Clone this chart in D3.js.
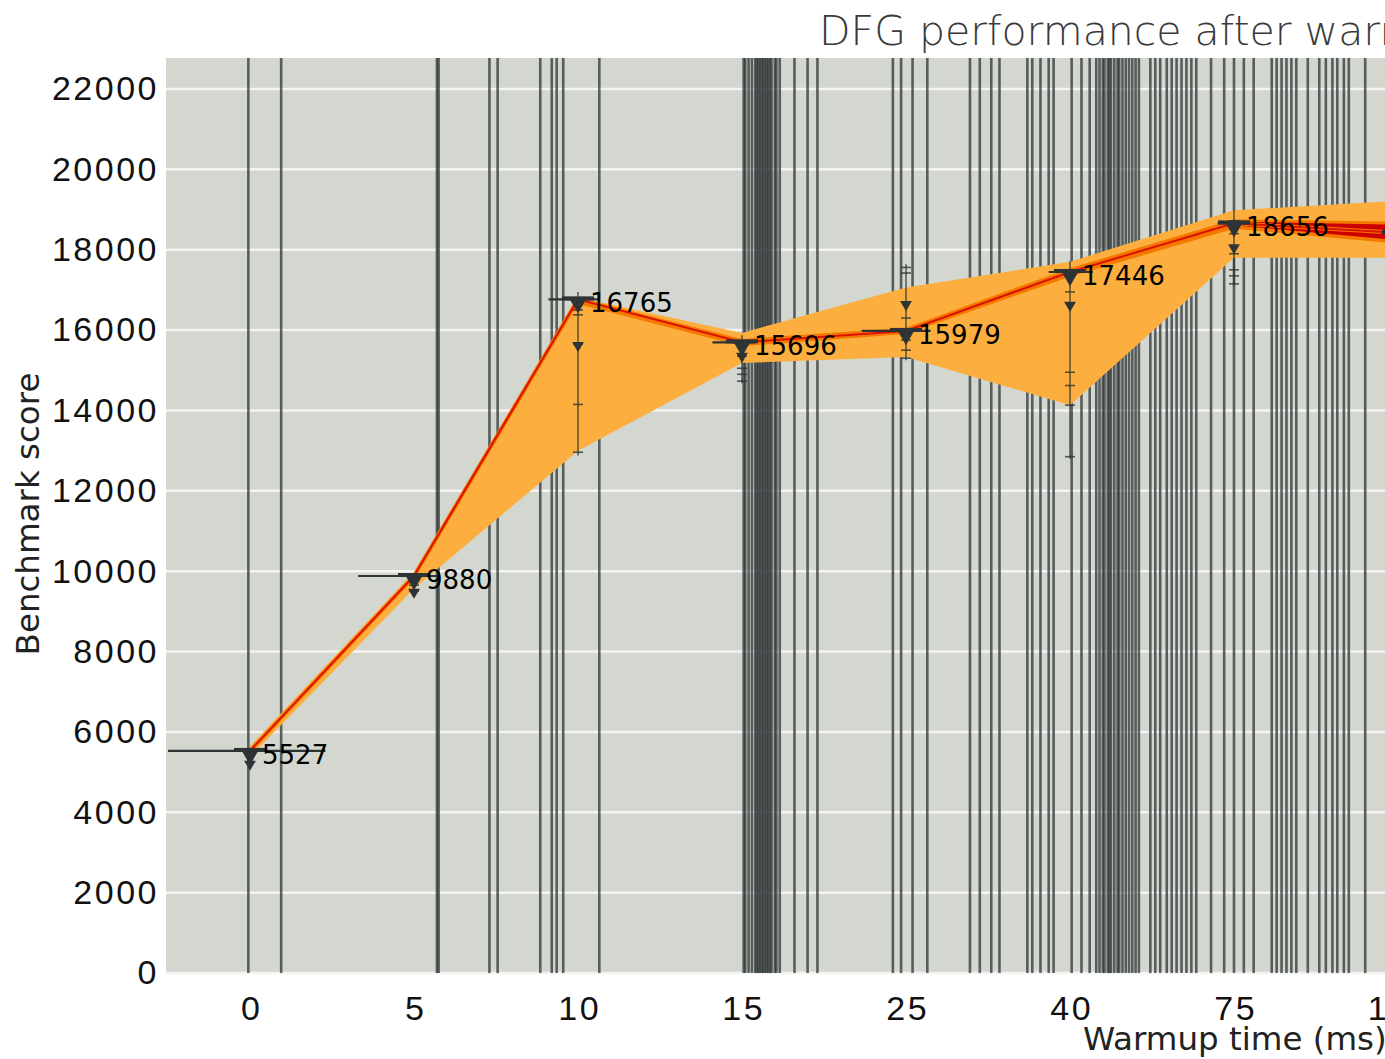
<!DOCTYPE html>
<html>
<head>
<meta charset="utf-8">
<script src="https://cdnjs.cloudflare.com/ajax/libs/d3/7.8.5/d3.min.js"></script>
<style>
  body { margin: 0; background: #fff; overflow: hidden; }
  svg { display: block; font-family: "DejaVu Sans", "Noto Sans", sans-serif; }
</style>
</head>
<body>
<div id="graph"></div>
<script>
// warmup categories and per-category summary values (benchmark score)
let warmups = ["0", "5", "10", "15", "25", "40", "75", "100"];
let medians = [5527, 9880, 16765, 15696, 15979, 17446, 18656, 18420];
let bandLow = [5380, 9560, 13000, 15180, 15330, 14130, 17800, 17800];
let bandHigh = [5640, 9980, 16820, 15930, 17060, 17700, 18980, 19220];
let innerLow = [5470, 9820, 16650, 15600, 15900, 17330, 18520, 18150];
let innerHigh = [5580, 9930, 16800, 15780, 16060, 17540, 18760, 18700];
let coreLow = [5510, 9860, 16740, 15670, 15950, 17410, 18610, 18240];
let coreHigh = [5545, 9900, 16790, 15720, 16000, 17480, 18700, 18620];

// run spread per category (whiskers and individual run ticks)
let whiskerLow = [5200, 9430, 12880, 14680, 15250, 12800, 17100, 17500];
let whiskerHigh = [5600, 9950, 16950, 15870, 17640, 17720, 18990, 19100];
let runTicks = [
  [5250, 5450],
  [9500, 9650, 9780],
  [16500, 16380, 15650, 14150, 12960],
  [15350, 15050, 14900, 14730],
  [17560, 17420, 16700, 16300, 15750, 15500, 15300],
  [16950, 16670, 14950, 14620, 14130, 12850],
  [18400, 17900, 17500, 17350, 17150],
  []
];
let triangleMarks = [
  [5250], [9530], [15670], [15400], [16690], [16670, 17440], [18100, 18700], []
];
// horizontal spread of each run group, in category index units
let spreadLow = [-0.5, 0.66, 1.82, 2.82, 3.73, 4.87, 5.9, 6.9];
let spreadHigh = [0.46, 1.16, 2.13, 3.08, 4.15, 5.14, 6.1, 7.1];

// rug of individual warmup samples, in category index units
let rugPositions = [
  -0.01, 0.19, 1.14, 1.15, 1.46, 1.51, 1.77, 1.84, 1.87, 1.91, 2.13,
  3.01, 3.02, 3.04, 3.06, 3.08, 3.09, 3.10, 3.11, 3.12, 3.13, 3.14, 3.15, 3.16, 3.17,
  3.18, 3.20, 3.21, 3.23,
  3.32, 3.40, 3.46,
  3.92, 3.97, 4.04, 4.13,
  4.39, 4.45, 4.52, 4.57,
  4.74, 4.77, 4.82, 4.87, 4.90, 5.01, 5.07, 5.12,
  5.16, 5.18, 5.20, 5.21, 5.23, 5.24, 5.25, 5.27, 5.29, 5.30, 5.32, 5.34, 5.36, 5.38, 5.40, 5.42,
  5.49, 5.52, 5.55, 5.59, 5.62, 5.65, 5.68, 5.71, 5.74, 5.77,
  5.86, 5.94, 6.00, 6.06, 6.12,
  6.23, 6.26, 6.29, 6.32, 6.35, 6.38, 6.45,
  6.52, 6.56, 6.60, 6.63, 6.67, 6.70, 6.80
];

let yTicks = [0, 2000, 4000, 6000, 8000, 10000, 12000, 14000, 16000, 18000, 20000, 22000];

let title = "DFG performance after warmup";
let xLabel = "Warmup time (ms)";
let yLabel = "Benchmark score";

let width = 1385, height = 1059;
let plot = {left: 166, top: 58, right: 1560, bottom: 973};

let x = d3.scalePoint().domain(warmups).range([250, 1398]);
let xi = d3.scaleLinear().domain([0, warmups.length - 1]).range([250, 1398]);
let y = d3.scaleLinear().domain([0, 22000]).range([plot.bottom, 89]);

let svg = d3.select('div#graph').append('svg')
  .attr('width', width)
  .attr('height', height);

svg.append('rect')
  .attr('x', plot.left)
  .attr('y', plot.top)
  .attr('width', plot.right - plot.left)
  .attr('height', plot.bottom - plot.top)
  .attr('fill', '#d3d7cf');

// grid
svg.append('g')
  .selectAll('line')
  .data(yTicks)
  .join('line')
  .attr('x1', plot.left)
  .attr('x2', plot.right)
  .attr('y1', d => y(d))
  .attr('y2', d => y(d))
  .attr('stroke', '#f4f4f2')
  .attr('stroke-width', 2.5);

// rug
svg.append('g')
  .selectAll('line')
  .data(rugPositions)
  .join('line')
  .attr('x1', d => xi(d))
  .attr('x2', d => xi(d))
  .attr('y1', plot.top)
  .attr('y2', plot.bottom)
  .attr('stroke', '#2e3436')
  .attr('stroke-opacity', 0.75)
  .attr('stroke-width', 2.6);

let idx = d3.range(warmups.length);

let band = (lo, hi) => d3.area()
  .x(i => x(warmups[i]))
  .y0(i => y(lo[i]))
  .y1(i => y(hi[i]));

svg.append('path').datum(idx).attr('d', band(bandLow, bandHigh)).attr('fill', '#fcaf3e');
svg.append('path').datum(idx).attr('d', band(innerLow, innerHigh)).attr('fill', '#f57900');
svg.append('path').datum(idx).attr('d', band(coreLow, coreHigh)).attr('fill', '#cc0000');

let line = d3.line()
  .x(i => x(warmups[i]))
  .y(i => y(medians[i]));

svg.append('path').datum(idx)
  .attr('d', line)
  .attr('fill', 'none')
  .attr('stroke', '#f57900')
  .attr('stroke-width', 4);
svg.append('path').datum(idx)
  .attr('d', line)
  .attr('fill', 'none')
  .attr('stroke', '#dd1100')
  .attr('stroke-width', 2);

// run spreads
let runs = svg.append('g').attr('fill', '#2e3436').attr('stroke', '#2e3436');

idx.forEach(function(i) {
  let cx = x(warmups[i]);
  runs.append('line')
    .attr('x1', cx).attr('x2', cx)
    .attr('y1', y(whiskerLow[i])).attr('y2', y(whiskerHigh[i]))
    .attr('stroke-width', 1.6)
    .attr('stroke-opacity', 0.75);
  runTicks[i].forEach(function(v) {
    runs.append('line')
      .attr('x1', cx - 5).attr('x2', cx + 5)
      .attr('y1', y(v)).attr('y2', y(v))
      .attr('stroke-width', 1.6)
      .attr('stroke-opacity', 0.8);
  });
  triangleMarks[i].forEach(function(v) {
    runs.append('path')
      .attr('d', d3.symbol(d3.symbolTriangle, 60)())
      .attr('transform', 'translate(' + cx + ',' + (y(v) + 2) + ') rotate(180)')
      .attr('stroke', 'none');
  });
  // spread bar at the median
  runs.append('line')
    .attr('x1', xi(spreadLow[i])).attr('x2', xi(spreadHigh[i]))
    .attr('y1', y(medians[i])).attr('y2', y(medians[i]))
    .attr('stroke-width', 2.2);
  runs.append('rect')
    .attr('x', cx - 16).attr('y', y(medians[i]) - 3)
    .attr('width', 32).attr('height', 4)
    .attr('stroke', 'none');
  runs.append('path')
    .attr('d', d3.symbol(d3.symbolTriangle, 110)())
    .attr('transform', 'translate(' + cx + ',' + (y(medians[i]) + 5) + ') rotate(180)')
    .attr('stroke', 'none');
});

// value labels (the last one falls outside the visible window)
svg.append('g')
  .selectAll('text')
  .data(idx.slice(0, -1))
  .join('text')
  .attr('x', i => x(warmups[i]) + 12)
  .attr('y', i => y(medians[i]) + 13)
  .attr('font-size', 26)
  .attr('fill', '#000')
  .text(i => medians[i]);

// axes
let yAxis = svg.append('g')
  .attr('transform', 'translate(' + plot.left + ',0)')
  .call(d3.axisLeft(y).tickValues(yTicks).tickFormat(d3.format('d')).tickSize(0).tickPadding(7));
yAxis.select('.domain').remove();
yAxis.selectAll('text')
  .attr('font-size', 34)
  .attr('letter-spacing', 2.5)
  .attr('fill', '#111')
  .attr('font-family', null);

let xAxis = svg.append('g')
  .attr('transform', 'translate(0,' + plot.bottom + ')')
  .call(d3.axisBottom(x).tickSize(0).tickPadding(23));
xAxis.select('.domain').remove();
xAxis.selectAll('text')
  .attr('font-size', 34)
  .attr('letter-spacing', 2.5)
  .attr('dx', 1.25)
  .attr('fill', '#111')
  .attr('font-family', null);

svg.append('text')
  .attr('transform', 'translate(39,' + 514 + ') rotate(-90)')
  .attr('text-anchor', 'middle')
  .attr('font-size', 32.5)
  .attr('fill', '#222')
  .text(yLabel);

svg.append('text')
  .attr('x', 1083)
  .attr('y', 1050)
  .attr('font-size', 32.5)
  .attr('fill', '#222')
  .text(xLabel);

svg.append('text')
  .attr('x', 819)
  .attr('y', 45)
  .attr('font-size', 41)
  .attr('font-weight', 200)
  .attr('fill', '#3a3a3a')
  .text(title);
</script>
</body>
</html>
